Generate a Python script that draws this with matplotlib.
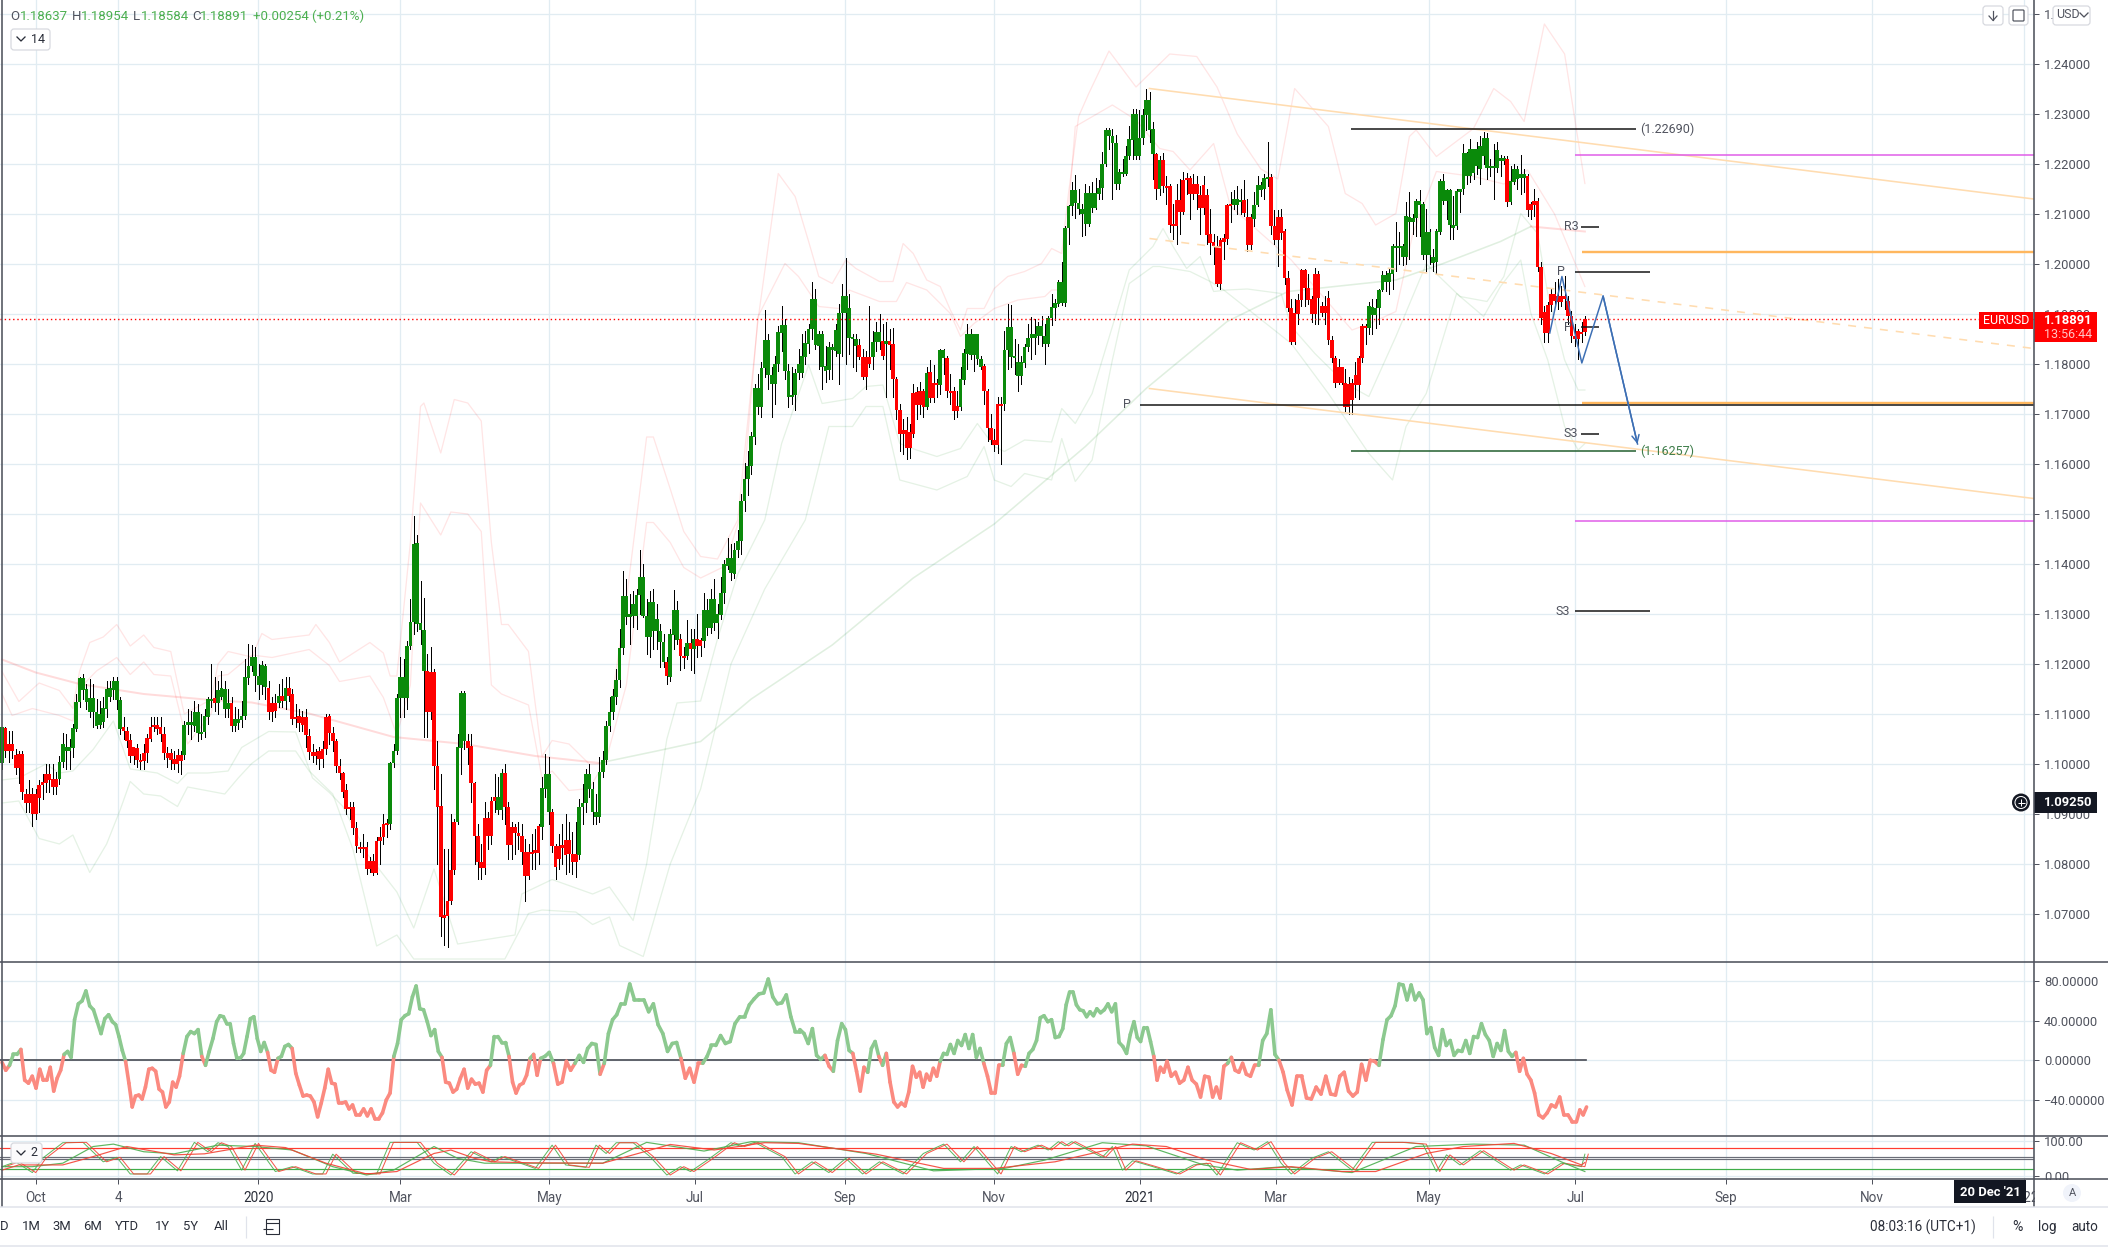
import numpy as np
import matplotlib
matplotlib.use("Agg")
import matplotlib.pyplot as plt
from matplotlib.collections import LineCollection
from matplotlib.patches import Rectangle, FancyBboxPatch, Circle

plt.rcParams['font.family'] = ['Roboto', 'DejaVu Sans']

# ---------- DATA (prices in pips above 1.0000) ----------
body_top = [
1073,1073,1040,1040,1018,1020,1020,940,940,940,
940,958,963,979,979,970,970,1004,1040,1033,
1033,1071,1123,1172,1172,1149,1131,1131,1104,1099,
1111,1151,1151,1165,1165,1128,1074,1066,1047,1033,
1033,1009,1021,1051,1074,1079,1079,1074,1059,1021,
1021,1009,1018,1018,1078,1083,1083,1104,1104,1064,
1095,1129,1131,1131,1147,1151,1151,1121,1121,1090,
1090,1097,1173,1197,1213,1213,1176,1197,1197,1151,
1122,1121,1135,1135,1151,1151,1140,1095,1095,1093,
1093,1056,1024,1024,1026,1031,1095,1095,1061,1045,
997,981,947,915,915,872,835,835,835,806,
806,847,855,880,881,1001,1026,1133,1174,1174,
1236,1283,1441,1441,1281,1268,1186,1183,1183,997,
915,697,726,788,883,1033,1142,1142,1045,1036,
961,856,804,892,892,926,935,935,981,981,
914,873,873,861,856,824,824,824,828,876,
951,979,979,904,836,836,838,847,847,820,
820,915,922,980,980,951,904,983,1008,1076,
1104,1135,1168,1233,1336,1336,1300,1320,1338,1374,
1374,1297,1323,1323,1290,1265,1243,1204,1260,1308,
1308,1250,1216,1241,1241,1250,1250,1248,1308,1308,
1330,1330,1300,1341,1400,1412,1412,1428,1445,1526,
1569,1596,1656,1751,1751,1791,1848,1848,1778,1801,
1864,1878,1878,1785,1738,1783,1800,1815,1841,1869,
1930,1930,1860,1860,1795,1833,1833,1868,1903,1936,
1936,1911,1853,1849,1837,1813,1813,1813,1844,1863,
1863,1846,1846,1846,1840,1769,1708,1668,1668,1663,
1741,1743,1745,1745,1783,1783,1762,1762,1828,1828,
1811,1746,1746,1716,1770,1821,1860,1860,1860,1860,
1809,1796,1745,1671,1648,1720,1721,1828,1873,1873,
1816,1805,1805,1833,1851,1860,1860,1875,1875,1856,
1891,1913,1921,1965,1965,2071,2116,2148,2148,2122,
2109,2141,2141,2141,2141,2151,2199,2268,2268,2256,
2243,2185,2185,2215,2249,2300,2300,2251,2298,2328,
2328,2269,2219,2208,2208,2156,2155,2080,2128,2128,
2168,2171,2171,2160,2160,2138,2158,2138,2060,2043,
2036,2048,2051,2118,2120,2129,2129,2128,2128,2093,
2093,2118,2158,2158,2171,2173,2173,2075,2093,2093,
2065,1971,1911,1901,1928,1987,1987,1951,1929,1980,
1980,1916,1916,1931,1848,1811,1793,1793,1763,1761,
1761,1778,1811,1875,1876,1916,1913,1911,1948,1978,
1978,1981,2036,2036,2035,2035,2096,2093,2091,2125,
2126,2121,2065,2065,2014,2065,2165,2165,2148,2148,
2078,2145,2149,2221,2221,2229,2229,2229,2235,2251,
2251,2195,2195,2227,2212,2212,2209,2165,2189,2190,
2180,2180,2176,2120,2125,2125,1993,1904,1918,1940,
1940,1935,1935,1935,1925,1895,1856,1865,1864,1889]

body_bot = [
1002,1026,1026,1026,992,992,944,921,921,899,
899,933,958,961,968,955,955,971,1004,1025,
1025,1033,1071,1123,1149,1123,1104,1104,1076,1078,
1083,1111,1135,1149,1128,1071,1066,1047,1016,1016,
1008,1006,1006,1021,1051,1074,1070,1059,1021,1012,
1009,999,999,1006,1018,1078,1078,1076,1061,1061,
1064,1095,1128,1122,1121,1135,1111,1111,1076,1076,
1082,1089,1097,1173,1197,1176,1158,1158,1154,1104,
1104,1106,1122,1126,1126,1136,1090,1090,1081,1079,
1058,1024,1017,1017,1011,1011,1031,1061,1045,997,
981,945,911,910,872,836,831,831,790,790,
783,783,846,855,879,879,1001,1026,1133,1133,
1133,1236,1283,1281,1268,1186,1104,1104,997,915,
694,693,696,726,788,883,1033,1047,1033,961,
856,804,792,792,856,856,926,909,909,914,
838,838,861,856,824,776,776,821,821,821,
875,950,904,836,794,811,833,818,819,805,
804,818,915,922,951,904,895,895,983,1008,
1076,1104,1135,1168,1233,1294,1294,1296,1296,1338,
1297,1254,1254,1265,1265,1243,1204,1176,1174,1258,
1248,1216,1215,1216,1230,1230,1236,1236,1246,1273,
1273,1282,1282,1299,1341,1397,1381,1380,1427,1445,
1525,1569,1596,1655,1715,1715,1791,1778,1761,1761,
1801,1863,1785,1735,1735,1738,1783,1783,1813,1841,
1869,1838,1837,1795,1785,1787,1828,1826,1821,1903,
1903,1852,1849,1837,1813,1773,1773,1801,1813,1845,
1845,1815,1841,1838,1769,1708,1660,1660,1631,1631,
1661,1718,1718,1715,1715,1731,1731,1758,1758,1811,
1745,1745,1705,1705,1715,1768,1821,1818,1818,1809,
1795,1745,1671,1648,1638,1638,1718,1721,1827,1813,
1813,1776,1776,1803,1833,1851,1851,1855,1855,1841,
1841,1891,1911,1921,1923,1923,2071,2116,2122,2109,
2101,2081,2081,2111,2111,2141,2151,2199,2256,2243,
2161,2161,2180,2181,2215,2249,2215,2215,2251,2298,
2268,2219,2150,2150,2156,2153,2078,2077,2075,2105,
2105,2168,2141,2141,2140,2111,2111,2058,2043,2036,
1961,1961,2045,2049,2117,2117,2118,2125,2103,2038,
2038,2090,2118,2148,2149,2169,2075,2048,2048,2063,
1971,1911,1845,1845,1901,1928,1951,1928,1901,1901,
1931,1903,1903,1848,1811,1763,1763,1763,1715,1715,
1728,1758,1758,1811,1873,1871,1898,1898,1911,1948,
1965,1965,1981,2033,2031,2013,2013,2085,2085,2091,
2118,2018,2018,2018,2003,2005,2065,2127,2127,2078,
2071,2075,2145,2149,2175,2175,2182,2195,2190,2215,
2191,2191,2191,2191,2207,2207,2125,2125,2165,2170,
2171,2171,2108,2108,2118,1993,1891,1862,1863,1918,
1926,1925,1925,1929,1895,1855,1850,1850,1862,1864]

wick_high = [
1075,1075,1065,1067,1030,1025,1025,950,969,952,
950,968,980,1000,1000,1000,985,1017,1062,1060,
1050,1080,1140,1175,1180,1160,1170,1160,1130,1125,
1135,1165,1165,1175,1175,1135,1095,1075,1060,1035,
1040,1020,1040,1060,1095,1095,1095,1095,1075,1035,
1030,1025,1030,1025,1085,1110,1105,1125,1120,1100,
1110,1135,1200,1175,1165,1185,1165,1150,1135,1115,
1110,1125,1210,1240,1238,1235,1200,1205,1200,1165,
1135,1140,1160,1170,1175,1175,1150,1120,1110,1105,
1110,1070,1040,1030,1035,1045,1100,1100,1075,1050,
1010,985,960,925,925,885,845,860,845,815,
820,855,875,900,890,1005,1040,1140,1215,1210,
1245,1330,1497,1458,1365,1333,1220,1235,1190,1045,
980,830,830,900,890,1060,1145,1145,1060,1060,
965,880,840,925,905,935,980,975,990,1000,
925,885,880,885,880,850,840,860,870,880,
975,1020,1015,910,840,860,880,900,885,865,
885,930,960,990,1000,965,940,1015,1025,1085,
1135,1150,1190,1270,1385,1370,1340,1345,1350,1428,
1400,1330,1345,1350,1320,1280,1260,1215,1270,1348,
1325,1260,1235,1288,1270,1270,1300,1252,1342,1330,
1350,1370,1320,1374,1408,1452,1440,1442,1468,1540,
1602,1626,1664,1760,1780,1805,1907,1860,1795,1815,
1875,1915,1890,1800,1795,1790,1830,1860,1865,1880,
1965,1950,1865,1865,1835,1845,1840,1880,1920,1960,
2012,1940,1860,1860,1850,1830,1825,1917,1865,1885,
1900,1880,1885,1870,1872,1775,1720,1690,1695,1680,
1760,1755,1765,1750,1795,1807,1798,1770,1830,1830,
1815,1780,1755,1745,1795,1830,1880,1870,1860,1860,
1815,1800,1750,1700,1670,1735,1735,1865,1920,1918,
1850,1840,1815,1840,1880,1893,1890,1885,1895,1880,
1895,1940,1930,1968,2005,2075,2118,2165,2178,2150,
2120,2160,2155,2165,2172,2168,2225,2272,2272,2270,
2258,2190,2210,2235,2275,2310,2310,2308,2310,2350,
2345,2285,2222,2215,2222,2175,2160,2120,2160,2170,
2185,2183,2175,2180,2175,2155,2175,2150,2110,2060,
2055,2052,2060,2120,2145,2148,2155,2150,2168,2130,
2100,2145,2175,2165,2180,2245,2180,2108,2108,2110,
2070,1985,1930,1930,1940,1990,1990,1980,1935,1992,
1985,1925,1935,1945,1855,1815,1810,1795,1790,1775,
1770,1805,1815,1880,1880,1925,1930,1930,1950,1985,
1985,1990,2040,2085,2065,2040,2125,2145,2100,2130,
2148,2125,2110,2070,2030,2070,2170,2180,2150,2150,
2135,2150,2150,2240,2225,2250,2230,2245,2255,2265,
2262,2210,2240,2245,2218,2215,2215,2195,2200,2195,
2217,2190,2180,2125,2150,2132,2005,1915,1925,1950,
1965,1970,1955,1975,1935,1905,1880,1870,1885,1895]

wick_low = [
990,1015,1005,1012,980,961,930,905,905,877,
890,905,930,945,945,940,940,960,995,990,
990,1015,1065,1115,1130,1110,1095,1075,1072,1072,
1075,1095,1125,1130,1110,1060,1050,1035,1005,1000,
995,990,990,1005,1045,1065,1060,1045,1010,995,
990,990,985,980,1010,1060,1050,1065,1045,1050,
1055,1080,1115,1105,1100,1130,1095,1095,1065,1065,
1070,1075,1090,1160,1185,1145,1130,1140,1130,1090,
1085,1095,1115,1115,1110,1125,1080,1075,1065,1065,
1035,1010,1005,1000,990,995,1020,1040,1025,985,
970,935,900,890,860,825,825,815,780,785,
778,780,800,840,855,870,995,1020,1095,1095,
1110,1230,1260,1265,1240,1054,1054,1090,950,800,
655,637,635,720,780,880,980,1030,1000,925,
800,770,770,780,830,840,905,900,890,880,
810,810,820,830,800,726,770,790,790,800,
850,935,880,825,770,790,800,780,785,780,
775,810,880,905,935,880,880,885,975,1000,
1065,1090,1120,1155,1220,1280,1240,1275,1270,1300,
1295,1220,1215,1230,1230,1195,1195,1160,1165,1230,
1240,1188,1192,1210,1188,1182,1215,1216,1235,1258,
1262,1268,1253,1290,1322,1390,1368,1372,1415,1420,
1505,1538,1580,1640,1700,1695,1775,1750,1695,1720,
1785,1825,1770,1715,1720,1708,1770,1775,1800,1822,
1850,1830,1790,1750,1765,1770,1770,1815,1760,1815,
1800,1820,1795,1785,1810,1770,1750,1795,1790,1825,
1830,1810,1735,1790,1735,1690,1625,1620,1610,1612,
1655,1690,1700,1695,1710,1725,1725,1735,1740,1780,
1735,1720,1690,1695,1708,1760,1790,1810,1785,1800,
1790,1720,1645,1640,1625,1622,1600,1708,1790,1795,
1780,1745,1760,1795,1825,1810,1820,1840,1835,1800,
1835,1878,1888,1915,1918,1915,2040,2098,2092,2100,
2055,2057,2075,2105,2110,2130,2130,2195,2230,2130,
2150,2150,2175,2178,2210,2210,2210,2210,2240,2268,
2245,2170,2130,2138,2145,2120,2065,2050,2040,2060,
2100,2140,2090,2130,2110,2060,2100,2040,2020,2000,
1955,1950,2010,2040,2085,2110,2100,2100,2095,2025,
2030,2075,2115,2135,2130,2155,2060,2040,1995,2050,
1960,1905,1840,1840,1880,1915,1915,1920,1885,1880,
1880,1895,1880,1840,1805,1755,1760,1760,1705,1700,
1700,1735,1730,1805,1840,1860,1860,1872,1880,1945,
1945,1940,1950,1985,2000,1998,2000,2010,2060,2055,
2055,2010,1985,2000,1985,1980,2060,2120,2090,2050,
2050,2070,2105,2140,2160,2165,2170,2180,2160,2200,
2170,2175,2130,2185,2175,2200,2115,2120,2160,2150,
2140,2145,2095,2090,2095,1985,1880,1845,1845,1905,
1915,1910,1915,1910,1880,1845,1835,1810,1845,1858]

candle_runs = [('g',1),('r',16),('g',19),('r',18),('g',9),('r',1),('g',4),('r',1),('g',10),('r',3),
 ('g',1),('r',1),('g',1),('r',30),('g',11),('r',9),('g',3),('r',9),('g',2),('r',11),('g',3),('r',8),
 ('g',26),('r',1),('g',3),('r',2),('g',1),('r',1),('g',1),('r',2),('g',46),('r',4),('g',3),('r',1),
 ('g',1),('r',11),('g',1),('r',3),('g',2),('r',4),('g',7),('r',6),('g',45),('r',1),('g',1),('r',21),
 ('g',3),('r',3),('g',5),('r',29),('g',41),('r',1),('g',5),('r',18)]

cci_first = [-2,-10,-5,6,6,11,-20,-23,-16,-28,-9,-20,-20,-7,-31,-18,-10,6,9,3,41,57,60,70,55,51,39,27,42,46,39,36,24,10,-1,-23,-47,-36,-35,-39,-27,-9,-8,-11,-29,-32,-47,-42,-22,-27,-16,7,24,29,27,31,4,-5,9,22,39,45,44,37,37,17,2,2,7,24,42,44,22,9,18,8,-10,-12,2,4,14,16,12,-13,-25,-36,-35,-36,-42,-57,-43,-28,-9,-23,-24,-43,-43,-42,-49,-45,-55,-55,-49,-56,-49,-59,-59,-53,-40,-33,4,17,41,45,47,64,75,52,51,39,25,31,9,3,-22,-23,-32,-29,-18,-9,-28,-19,-24,-23,-32,-10,-5,24,24,18,18,4,-22,-33,-25,-23,-15,2,6,-15,2,4,8,-3,-24,-22,-1,-10,-3,5,-2,12,17,16,-14,-3,27,41,46,57,57,77,61,61,61,49,57,36,27,9,17,18,2,-18,-8,-22,-3,-3,4,15,15,25,17,19,37,44,44,56,62,67,68,82,64,57,58,66,44,29,29]
cci_first_knot_idx = [0,10,20,30,40,50,60,70,80,90,100,110,120,130,140,150,160,170,180,190,200,208]
cci_first_knot_bar = [0,11.2,21.5,32.7,42.5,52.6,63.6,73.6,83.8,94.6,104.9,116.1,127.1,138,149.2,159.6,172.3,184.6,198.6,211.5,225.7,236.4]
cci_second = [31,27,17,32,5,1,5,-6,-11,20,37,31,10,7,-11,-31,-7,-12,12,19,4,-5,7,-22,-42,-47,-43,-46,-32,-6,-17,-12,-27,-14,-20,-8,-16,-1,7,6,16,7,20,15,26,12,26,3,12,-3,-16,-33,-33,-5,-5,17,23,7,-14,-5,-6,7,11,20,43,45,39,41,23,24,32,56,69,69,56,51,50,44,49,45,52,48,51,57,49,57,18,14,7,26,39,23,19,33,33,19,4,-20,-7,-12,-1,-16,-12,-23,-20,-7,-20,-24,-37,-16,-17,-37,-27,-38,-6,-3,3,-10,-12,-3,-14,-16,-5,-5,20,27,51,6,0,-12,-30,-45,-16,-16,-38,-39,-27,-34,-16,-34,-35,-16,-12,-31,-36,-32,-4,-20,0,-1,-5,21,41,45,55,77,76,61,76,61,68,61,27,33,13,5,31,15,20,5,10,9,20,7,24,23,37,26,20,4,17,10,30,9,4,8,-11,2,-14,-20,-33,-55,-58,-53,-45,-47,-37,-55,-55,-62,-62,-50,-55,-47]
cci_second_knot_idx = [0,10,20,30,40,50,60,70,80,90,100,110,120,130,140,150,160,170,180,190,200,203]
cci_second_knot_bar = [236.4,248.8,259.8,270.9,281,292,303.2,314.3,324.4,335.4,345.2,357.6,368.7,380.8,395.1,408,419.9,431.4,443,454.1,466.5,469.5]

stoch_fast_bar = [0,4,9,12,18,24,30,34,38,43,47,52,57,61,64,67,71,75,81,86,92,95,98,104,111,115,123,128,133,139,145,148,158,163,167,173,176,179,182,187,192,197,201,204,209,216,219,223,231,235,240,245,250,255,260,267,273,279,284,288,295,299,302,307,310,313,315,317,326,329,332,335,341,348,353,357,360,366,371,375,379,382,388,393,400,406,415,421,425,428,432,438,447,450,457,462,468,469]
stoch_fast_val = [26,40,9,50,95,96,40,53,5,5,55,14,96,69,95,84,16,93,12,26,5,5,62,7,5,96,96,36,2,69,40,55,21,88,31,24,88,64,95,95,55,2,26,12,45,95,84,96,55,5,40,9,50,5,40,5,64,91,40,84,5,84,69,88,74,98,86,98,53,84,16,43,26,5,31,36,2,95,74,98,36,5,50,69,16,96,96,91,12,60,31,72,16,31,5,36,26,62]
stoch_slow_red_bar = [0,5,18,27,37,51,60,75,84,96,108,117,128,133,140,145,157,178,187,198,211,226,236,259,279,294,312,335,345,357,370,382,397,407,422,433,448,459,468,469]
stoch_slow_red_val = [16,31,31,55,84,60,63,88,81,36,5,12,64,74,50,40,37,36,60,90,74,95,93,62,21,21,40,91,84,45,18,26,12,12,64,84,93,64,31,38]
stoch_slow_green_bar = [0,9,18,27,33,42,51,64,75,86,98,108,116,128,135,143,158,178,191,208,222,236,256,276,297,309,326,339,356,366,380,400,419,436,451,462,469]
stoch_slow_green_val = [26,26,36,84,91,69,63,88,84,74,26,2,16,84,50,36,36,36,96,71,98,95,64,14,21,45,95,86,31,16,26,9,84,91,88,40,12]

ma_red_bar = [0,10,23,42,62,74,91,116,137,158,177]
ma_red_pips = [1209,1183,1160,1140,1128,1123,1101,1054,1040,1016,1002]
ma_green_bar = [177,194,207,222,246,270,294,321,339,363,381,413,427,444,453]
ma_green_pips = [1002,1026,1045,1130,1238,1372,1480,1635,1751,1885,1945,1968,2001,2045,2075]
ma_tail_bar = [453,469]
ma_tail_pips = [2075,2065]

upper_outer_bar = [0,5,11,17,21,23,26,30,34,38,42,45,50,54,62,64,67,74,77,80,91,93,97,100,109,113,115,117,121,124,125,130,134,138,142,145,148,150,156,160,163,168,174,178,185,191,193,198,202,207,212,218,224,230,235,239,242,246,250,253,260,264,267,270,274,278,281,284,286,291,294,298,303,308,311,314,316,319,322,328,336,346,354,360,366,373,378,383,393,398,403,407,413,417,419,425,436,442,447,451,457,463,469]
upper_outer_pips = [1185,1125,1162,1147,1111,1186,1243,1254,1279,1236,1258,1233,1225,1100,1129,1200,1225,1214,1261,1249,1258,1279,1243,1204,1243,1222,1176,1176,1443,1715,1722,1622,1729,1722,1686,1443,1279,1279,1225,1015,1047,1040,1000,1000,1329,1654,1654,1550,1465,1415,1410,1488,1888,2181,2135,2045,1975,1961,2008,1991,1965,1965,2041,2021,1968,1955,1908,1868,1911,1911,1951,1975,1985,2001,2031,2021,2141,2295,2341,2426,2354,2420,2415,2354,2260,2190,2170,2351,2275,2141,2121,2078,2101,2255,2268,2215,2271,2351,2325,2285,2480,2420,2161]
upper_inner_bar = [0,3,9,17,21,23,28,34,38,42,45,50,55,62,64,67,74,80,91,97,100,109,113,117,121,124,130,133,138,142,145,148,156,160,163,168,174,179,185,191,193,198,202,207,214,219,224,232,236,242,248,251,260,265,268,274,281,284,288,294,301,309,311,314,316,318,329,336,343,347,352,359,364,382,400,405,413,418,425,436,445,452,460,469]
upper_inner_pips = [1140,1097,1111,1097,1086,1151,1186,1213,1179,1204,1179,1176,1040,1101,1176,1179,1218,1213,1229,1197,1165,1176,1133,1058,1158,1522,1458,1504,1500,1465,1158,1140,1118,972,986,947,951,1008,1158,1483,1483,1443,1393,1372,1395,1500,1895,2001,1975,1915,1911,1948,1925,1925,1963,1948,1901,1855,1881,1911,1928,1935,1948,1948,2108,2275,2318,2288,2231,2225,2188,2241,2115,2008,1868,1880,1905,2060,2185,2175,2160,2188,2100,1955]
lower_inner_bar = [0,5,13,17,21,27,33,38,46,52,55,61,67,71,79,87,92,97,101,108,117,122,128,135,152,154,163,175,180,187,191,197,200,207,212,218,226,231,239,243,252,256,261,266,271,277,284,289,294,297,303,311,314,318,323,329,334,341,344,347,351,355,359,363,369,379,382,389,398,405,413,422,432,440,445,450,455,458,463,467,469]
lower_inner_pips = [968,972,1000,982,986,1029,1086,990,982,961,982,982,986,1033,1065,1064,972,943,915,822,744,672,790,640,658,740,769,740,754,687,800,1050,1122,1126,1250,1380,1488,1641,1798,1721,1731,1755,1758,1641,1628,1615,1631,1681,1635,1625,1648,1644,1711,1681,1741,1875,1988,2035,2071,2035,1991,2015,1945,1948,1950,1941,1875,1821,1761,1735,1855,2000,1935,1925,1975,2101,2061,1941,1808,1748,1748]
lower_outer_bar = [0,5,11,17,21,26,31,35,38,42,47,52,55,66,70,74,79,87,91,98,104,111,117,122,149,156,160,170,175,180,183,190,198,207,216,226,238,245,252,256,261,266,277,286,291,294,299,303,311,314,318,323,329,334,341,343,352,358,362,382,393,405,412,416,422,431,439,444,450,453,458,463,467,469]
lower_outer_pips = [922,926,851,840,858,783,840,908,965,940,936,915,954,940,972,1001,1026,1026,986,940,829,636,658,610,610,701,708,704,679,694,637,615,800,950,1200,1350,1488,1675,1675,1715,1715,1568,1548,1575,1635,1568,1555,1581,1568,1651,1565,1608,1808,1961,1995,1995,1985,1965,1948,1841,1741,1621,1568,1675,1741,1941,1895,1955,2008,1901,1808,1675,1628,1641]

trend_bars = [340, 602]
trend_upper = [2351, 2130]
trend_middle = [2051, 1831]
trend_lower = [1751, 1531]
zigzag_bar = [458.6, 462.2, 468.1, 474.4, 484.6]
zigzag_pips = [1862, 1975, 1802, 1936, 1640]

price_ticks = [1.07,1.08,1.09,1.10,1.11,1.12,1.13,1.14,1.15,1.16,1.17,1.18,1.19,1.20,1.21,1.22,1.23,1.24,1.25]
cci_ticks = [-40, 0, 40, 80]
stoch_ticks = [0, 100]
time_tick_bars = [10, 34.4, 75.9, 118, 162.2, 205.3, 249.8, 294, 337.2, 377.5, 422.8, 466.2, 510.7, 554, 599]
time_tick_labels = ['Oct','4','2020','Mar','May','Jul','Sep','Nov','2021','Mar','May','Jul','Sep','Nov','2022']
last_price = 1.18891

# ---------- LAYOUT ----------
W, H = 2108, 1247
PX = 3.375
fig = plt.figure(figsize=(W/100, H/100), dpi=100, facecolor='white')
def pt(px): return px*0.72
def pane(top, bottom):
    a = fig.add_axes([0, 1-bottom/H, 2034/W, (bottom-top)/H])
    a.set_xlim(-2/PX, 2032/PX)
    a.set_facecolor('white')
    for s in a.spines.values():
        s.set_visible(False)
    a.set_axisbelow(True)
    a.grid(True, color='#e1ecf2', lw=pt(1.3))
    a.yaxis.tick_right()
    a.tick_params(axis='y', length=pt(5), width=pt(1), color='#50535e', labelcolor='#50535e',
                  labelsize=pt(13), pad=pt(5))
    return a
ax = pane(0, 961.5)
ax2 = pane(961.5, 1136.3)
ax3 = pane(1136.3, 1179.3)
ax.set_ylim(1.0605, 1.2528)
ax2.set_ylim(-76.6, 99.7)
ax3.set_ylim(-10.4, 113.5)
ax.set_yticks(price_ticks); ax.set_yticklabels([f'{v:.5f}' for v in price_ticks])
ax2.set_yticks(cci_ticks); ax2.set_yticklabels([f'{v:.5f}'.replace('-', '\u2212') for v in cci_ticks])
ax3.set_yticks(stoch_ticks); ax3.set_yticklabels([f'{v:.2f}' for v in stoch_ticks])
for a in (ax, ax2, ax3):
    a.set_xticks(time_tick_bars)
ax.tick_params(axis='x', length=0, labelbottom=False)
ax2.tick_params(axis='x', length=0, labelbottom=False)
ax3.tick_params(axis='x', length=pt(5), width=pt(1), color='#50535e', labelcolor='#50535e',
                labelsize=pt(13.5), pad=pt(7))
ax3.set_xticklabels(time_tick_labels)
for lab in ax3.get_xticklabels():
    if lab.get_text() in ('2020', '2021'):
        lab.set_color('#2a2e39')

P = lambda v: 1 + np.asarray(v, float)/10000

# bands
def band(a, b, c, alpha, lw=1.0):
    n = min(len(a), len(b))
    ax.plot(a[:n], P(b[:n]), color=c, alpha=alpha, lw=pt(lw), zorder=1.5)
band(upper_outer_bar, upper_outer_pips, '#ff0000', .10, 1.3)
band(upper_inner_bar, upper_inner_pips, '#ff0000', .10, 1.3)
band(lower_inner_bar, lower_inner_pips, '#008000', .10, 1.3)
band(lower_outer_bar, lower_outer_pips, '#008000', .10, 1.3)
band(ma_red_bar, ma_red_pips, '#ff0000', .14, 2)
band(ma_green_bar, ma_green_pips, '#008000', .12, 1.6)
band(ma_tail_bar, ma_tail_pips, '#ff0000', .14, 2)

# candles
n = min(len(body_top), len(body_bot), len(wick_high), len(wick_low))
colors = ''.join(c*k for c, k in candle_runs)[:n]
bars = np.arange(n)
top = P(body_top[:n]); bot = P(body_bot[:n])
hi = np.maximum(P(wick_high[:n]), top); lo = np.minimum(P(wick_low[:n]), bot)
bot_draw = np.minimum(bot, top - 0.0004)
face = ['#0a8a0a' if c == 'g' else '#ff0000' for c in colors]
ax.vlines(bars, lo, hi, color='black', lw=pt(1.0), zorder=3, antialiased=False)
ax.bar(bars, top-bot_draw, bottom=bot_draw, width=1.05, color=face, linewidth=0, zorder=3.2, antialiased=False)

# trend lines and drawings
ax.plot(trend_bars, P(trend_upper), color='#ffdcb0', lw=pt(1.6), zorder=3.5)
ax.plot(trend_bars, P(trend_lower), color='#ffdcb0', lw=pt(1.6), zorder=3.5)
ax.plot(trend_bars, P(trend_middle), color='#ffdcb0', lw=pt(1.6), ls=(0, (5, 5)), zorder=3.5)
def xb(px): return (px-2)/PX
def hline(price, x0, x1, c, lw=1.5):
    ax.plot([xb(x0), xb(x1)], [price, price], color=c, lw=pt(lw), zorder=3.6, solid_capstyle='butt')
hline(1.2269, 1351, 1636, '#111111')
hline(1.16257, 1351, 1636, '#1f5c2a')
hline(1.2217, 1575, 2034, '#e05ae8')
hline(1.1485, 1575, 2034, '#e05ae8')
hline(1.2024, 1582, 2034, '#ffb75e', 2.4)
hline(1.1723, 1582, 2034, '#ffb75e', 2.4)
hline(1.1719, 1140, 2034, '#111111')
hline(1.2074, 1581, 1599, '#111111')
hline(1.1985, 1575, 1650, '#111111')
hline(1.1873, 1581, 1599, '#111111')
hline(1.1661, 1581, 1599, '#111111')
hline(1.1305, 1575, 1650, '#111111')
ax.plot([xb(0), xb(2034)], [last_price]*2, color='#ff0000', lw=pt(1.4), ls=(0, (1, 2)), zorder=3.7)
zx, zy = np.array(zigzag_bar), P(zigzag_pips)
ax.plot(zx, zy, color='#3d6fb4', lw=pt(1.5), zorder=4)
ax.annotate('', xy=(zx[-1], zy[-1]), xytext=(zx[-2], zy[-2]),
            arrowprops=dict(arrowstyle='->', color='#3d6fb4', lw=pt(1.5), mutation_scale=13, shrinkA=0, shrinkB=0), zorder=4)
for txt, xpx, price, c, ha in [('P', 1127, 1.1719, '#50535e', 'center'), ('R3', 1571.5, 1.2074, '#50535e', 'center'),
                               ('P', 1561, 1.1985, '#50535e', 'center'), ('P', 1568, 1.1873, '#50535e', 'center'),
                               ('S3', 1571, 1.1661, '#50535e', 'center'), ('S3', 1563, 1.1305, '#50535e', 'center'),
                               ('(1.22690)', 1640, 1.2269, '#50535e', 'left'), ('(1.16257)', 1640, 1.16257, '#3e7d4a', 'left')]:
    ax.text(xb(xpx), price, txt, color=c, fontsize=pt(12.5), ha=ha, va='center', zorder=5)

# CCI
ax2.axhline(0, xmin=0, xmax=1586/2034, color='#4b4e57', lw=pt(1.7), zorder=3)
cx = np.concatenate([np.interp(np.arange(len(cci_first)), cci_first_knot_idx, cci_first_knot_bar),
                     np.interp(np.arange(len(cci_second)), cci_second_knot_idx, cci_second_knot_bar)])
cy = np.array(cci_first + cci_second, float)
segs = [[(cx[i], cy[i]), (cx[i+1], cy[i+1])] for i in range(len(cx)-1)]
seg_colors = ['#8cc98f' if (cy[i]+cy[i+1]) >= 0 else '#fb8a80' for i in range(len(cx)-1)]
ax2.add_collection(LineCollection(segs, colors=seg_colors, linewidths=pt(3.6), capstyle='round', zorder=4))

# Stochastics
for v, c in [(79, '#ff3b30'), (55, '#6b6e78'), (47.5, '#6b6e78'), (20, '#3fae49')]:
    ax3.axhline(v, color=c, lw=pt(1.2), zorder=2.5)
sfb = np.array(stoch_fast_bar, float)
ax3.plot(sfb, stoch_fast_val, color='#4caf50', lw=pt(1), zorder=3, alpha=.9)
ax3.plot(sfb+1, stoch_fast_val, color='#f44336', lw=pt(1), zorder=3, alpha=.9)
ax3.plot(stoch_slow_green_bar, stoch_slow_green_val, color='#4caf50', lw=pt(1.2), zorder=3, alpha=.9)
ax3.plot(stoch_slow_red_bar, stoch_slow_red_val, color='#f44336', lw=pt(1.2), zorder=3, alpha=.9)

# ---------- chrome overlay in pixels ----------
ov = fig.add_axes([0, 0, 1, 1], facecolor='none', zorder=10)
ov.set_xlim(0, W); ov.set_ylim(H, 0); ov.axis('off')
AX = '#50535e'
def line(x0, y0, x1, y1, c=AX, lw=1.5):
    ov.plot([x0, x1], [y0, y1], color=c, lw=pt(lw), solid_capstyle='butt')
def rect(x0, y0, x1, y1, fc, ec='none', lw=1):
    ov.add_patch(Rectangle((x0, y0), x1-x0, y1-y0, fc=fc, ec=ec, lw=pt(lw)))
def rbox(x0, y0, x1, y1, fc='white', ec='#d6d8de'):
    ov.add_patch(FancyBboxPatch((x0+3, y0+3), x1-x0-6, y1-y0-6, boxstyle='round,pad=3', fc=fc, ec=ec, lw=pt(1.2)))
def text(x, y, s, c='#2a2e39', size=13, ha='center', **k):
    ov.text(x, y, s, color=c, fontsize=pt(size), ha=ha, va='center', **k)
def chevron(x, y, c='#2a2e39'):
    ov.plot([x-4, x, x+4], [y-2, y+2, y-2], color=c, lw=pt(1.3))

rect(2035, 1180, W, 1206, 'white')
for y in (961.5, 1136.3, 1179.3):
    line(0, y, W, y, AX, 1.6)
line(1.5, 0, 1.5, 1207, AX, 1.6)
line(2034, 0, 2034, 1207, AX, 1.6)
line(0, 1207, W, 1207, '#e0e3eb', 1.5)
line(0, 1246, W, 1246, '#e0e3eb', 1.5)

# legend line
G = '#4caf50'; K = '#50535e'
for x, s, c in [(10, 'O', K), (20, '1.18637', G), (72, 'H', K), (81, '1.18954', G), (133, 'L', K), (141, '1.18584', G),
                (192, 'C', K), (200, '1.18891', G), (253, '+0.00254 (+0.21%)', G)]:
    text(x, 16.5, s, c, 13.2, ha='left')
rbox(11, 29, 50, 50)
chevron(21, 39); text(38, 39.5, '14', '#2a2e39', 12.5)
rbox(11, 1143, 42, 1163, fc='#fbfbfc')
chevron(21, 1153); text(34, 1153, '2', '#2a2e39', 12.5)

# top right buttons
rbox(1983, 6, 2003, 25); rbox(2009, 6, 2028, 25); rbox(2053, 6, 2090, 25)
ov.plot([1993, 1993], [11, 20], color='#50535e', lw=pt(1.2))
ov.plot([1989, 1993, 1997], [16, 20.5, 16], color='#50535e', lw=pt(1.2))
ov.add_patch(FancyBboxPatch((2014, 11), 9, 9, boxstyle='round,pad=1', fc='none', ec='#50535e', lw=pt(1.2)))
text(2068, 15, 'USD', '#50535e', 12.5); chevron(2084, 15, '#50535e')

# price labels
rect(1979, 312, 2033, 329, '#ff0000')
text(2006, 320.5, 'EURUSD', 'white', 12.5)
rect(2034, 312, 2097, 342, '#ff0000')
text(2044, 320.5, '1.18891', 'white', 13, ha='left', fontweight='bold')
text(2044, 334.5, '13:56:44', '#ffc4c4', 12.5, ha='left')
rect(2034, 792, 2097, 813, '#131722')
text(2044, 802.5, '1.09250', 'white', 13, ha='left', fontweight='bold')
ov.add_patch(Circle((2021, 802.5), 9, fc='#131722', ec='none'))
ov.add_patch(Circle((2021, 802.5), 6, fc='none', ec='white', lw=pt(1)))
line(2017.5, 802.5, 2024.5, 802.5, 'white', 1); line(2021, 799, 2021, 806, 'white', 1)

# time axis extras
rect(1954, 1180, 2026, 1203, '#131722')
text(1990, 1192, "20 Dec '21", 'white', 13, fontweight='bold')
ov.add_patch(Circle((2072, 1193), 9, fc='#f0f3fa', ec='none'))
text(2072, 1193, 'A', '#50535e', 11)

# bottom bar
for x, s in zip([4, 31, 62, 93, 127, 162, 191, 221], ['D', '1M', '3M', '6M', 'YTD', '1Y', '5Y', 'All']):
    text(x, 1227, s, '#2a2e39', 13)
line(246, 1216, 246, 1238, '#e0e3eb', 1.2)
ov.add_patch(Rectangle((266, 1219), 13, 15, fc='none', ec='#2a2e39', lw=pt(1.1)))
line(266, 1223, 279, 1223, '#2a2e39', 1.1)
line(263, 1229, 273, 1229, '#2a2e39', 1.1)
text(1923, 1227, '08:03:16 (UTC+1)', '#2a2e39', 13.5)
line(1993, 1216, 1993, 1238, '#e0e3eb', 1.2)
text(2017, 1227, '%', '#2a2e39', 14)
text(2047, 1227, 'log', '#2a2e39', 13.5)
text(2085, 1227, 'auto', '#2a2e39', 13.5)

fig.savefig('out.png', dpi=100, facecolor='white')
